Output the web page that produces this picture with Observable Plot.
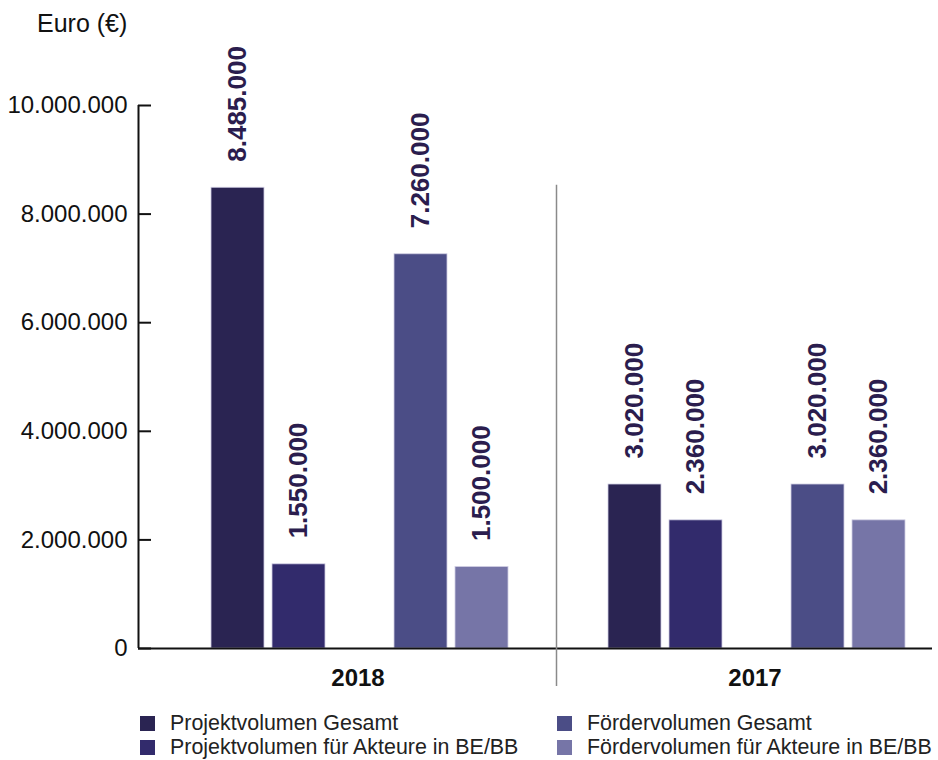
<!DOCTYPE html>
<html><head><meta charset="utf-8">
<script src="https://cdn.jsdelivr.net/npm/d3@7"></script>
<script src="https://cdn.jsdelivr.net/npm/@observablehq/plot@0.6"></script>
<style>
body{margin:0;background:#fff;font-family:"Liberation Sans",Arial,sans-serif;}
#wrap{position:relative;width:938px;height:760px;overflow:hidden;}
#title{position:absolute;left:37px;top:9px;font-size:25px;color:#111;}
#chart{position:absolute;left:0;top:60px;}
.leg{position:absolute;font-size:21.4px;color:#222;display:flex;align-items:center;line-height:24px;white-space:nowrap;}
.sw{width:15px;height:15px;margin-right:15px;flex:none;}
</style></head><body>
<div id="wrap"><div id="title">Euro (€)</div><div id="chart"></div><div id="legend"></div></div>
<script>
const years = ["2018", "2017"];
const series = ["Projektvolumen Gesamt", "Projektvolumen für Akteure in BE/BB", "Fördervolumen Gesamt", "Fördervolumen für Akteure in BE/BB"];
const values2018 = [8485000, 1550000, 7260000, 1500000];
const values2017 = [3020000, 2360000, 3020000, 2360000];
const colors = ["#2a2452", "#322b6c", "#4b4d86", "#7675a7"];
const yTicks = [0, 2000000, 4000000, 6000000, 8000000, 10000000];

const de = d3.formatLocale({decimal: ",", thousands: ".", grouping: [3], currency: ["", " €"]});
const fmt = de.format(",d");

const rows = years.flatMap((yr, i) => series.map((s, j) => ({year: yr, series: s, value: (i === 0 ? values2018 : values2017)[j]})));
const slots = [series[0], series[1], "·", series[2], series[3]];

const chart = Plot.plot({
  width: 938, height: 640,
  marginLeft: 138, marginRight: 6, marginTop: 45, marginBottom: 52,
  style: {fontFamily: "Liberation Sans, Arial, sans-serif", background: "white", color: "#111", overflow: "visible"},
  fx: {domain: years, padding: 0, label: null, axis: null},
  x: {domain: slots, range: [211, 508], paddingInner: 8 / 61, paddingOuter: 0, axis: null},
  y: {domain: [0, 10000000], label: null, axis: null},
  color: {domain: series, range: colors},
  marks: [
    Plot.barY(rows, {fx: "year", x: "series", y: "value", fill: "series", stroke: "#cfcde3", strokeWidth: 0.8}),
    Plot.text(rows, {fx: "year", x: "series", y: "value", text: d => fmt(d.value), rotate: -90, textAnchor: "start", lineAnchor: "middle", dy: -26, fontSize: 26, fontWeight: "bold", fill: "#2b1d4e"}),
    Plot.ruleY([0], {stroke: "#111", strokeWidth: 2}),
    Plot.axisY({ticks: yTicks, tickFormat: fmt, tickSize: -13, tickPadding: 24, fontSize: 24, strokeWidth: 2, label: null}),
    Plot.axisFx({anchor: "bottom", tickSize: 0, tickPadding: 20, fontSize: 24, fontWeight: "bold", dx: 21, label: null}),
    Plot.ruleX([{year: "2018"}], {fx: "year", x: null, y1: 0, y2: 10000000, dx: -198.5, stroke: "#111", strokeWidth: 2}),
    Plot.ruleX([{year: "2017"}], {fx: "year", x: null, y1: -700000, y2: 8530000, dx: -177.5, stroke: "#8a8a8a", strokeWidth: 1.5})
  ]
});
document.getElementById("chart").appendChild(chart);

const legendPos = [[140, 711], [140, 735], [557, 711], [557, 735]];
const leg = document.getElementById("legend");
series.forEach((s, i) => {
  const d = document.createElement("div");
  d.className = "leg";
  d.style.left = legendPos[i][0] + "px";
  d.style.top = legendPos[i][1] + "px";
  d.innerHTML = `<span class="sw" style="background:${colors[i]}"></span><span>${s}</span>`;
  leg.appendChild(d);
});
</script>
</body></html>
